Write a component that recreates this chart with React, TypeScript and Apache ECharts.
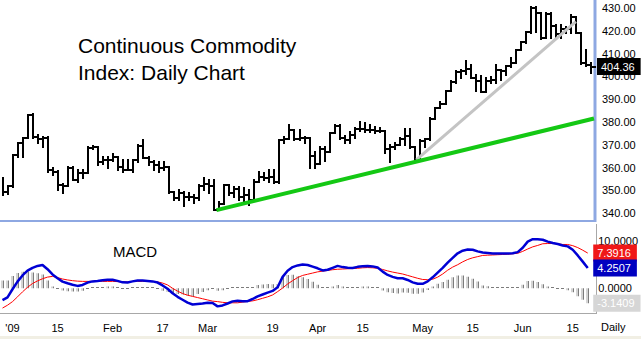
import React, { useEffect, useRef } from "react";
import * as echarts from "echarts";

const dates = [
  "12-30", "12-31",
  "01-02", "01-05", "01-06", "01-07", "01-08", "01-09", "01-12", "01-13", "01-14", "01-15", "01-16", "01-20", "01-21", "01-22", "01-23", "01-26", "01-27", "01-28", "01-29", "01-30",
  "02-02", "02-03", "02-04", "02-05", "02-06", "02-09", "02-10", "02-11", "02-12", "02-13", "02-17", "02-18", "02-19", "02-20", "02-23", "02-24", "02-25", "02-26", "02-27",
  "03-02", "03-03", "03-04", "03-05", "03-06", "03-09", "03-10", "03-11", "03-12", "03-13", "03-16", "03-17", "03-18", "03-19", "03-20", "03-23", "03-24", "03-25", "03-26", "03-27", "03-30", "03-31",
  "04-01", "04-02", "04-03", "04-06", "04-07", "04-08", "04-09", "04-13", "04-14", "04-15", "04-16", "04-17", "04-20", "04-21", "04-22", "04-23", "04-24", "04-27", "04-28", "04-29", "04-30",
  "05-01", "05-04", "05-05", "05-06", "05-07", "05-08", "05-11", "05-12", "05-13", "05-14", "05-15", "05-18", "05-19", "05-20", "05-21", "05-22", "05-26", "05-27", "05-28", "05-29",
  "06-01", "06-02", "06-03", "06-04", "06-05", "06-08", "06-09", "06-10", "06-11", "06-12", "06-15", "06-16", "06-17", "06-18",
];

const highs = [
  355.3, 352, 365.5, 371, 373, 383, 383.5, 374.5, 373.5, 373.5,
  360, 358.5, 353, 360.2, 360.2, 358.8, 359, 369, 369.5, 369,
  364.5, 364.5, 366, 364.7, 363.3, 363.3, 363.3, 370, 372, 364.6,
  363, 362.4, 362.4, 360.5, 349.5, 350.2, 349.3, 349, 348, 352.4,
  355.5, 354.6, 354.6, 345, 352.4, 352.4, 351.5, 351.5, 351, 350.2,
  354.6, 358, 357.6, 359, 359, 372, 373.5, 378.6, 376.5, 376.5,
  373.5, 373, 367, 369, 369, 375, 378.6, 378.6, 374, 375.5,
  377.5, 380, 379.5, 378.6, 378, 377.5, 376, 370, 370.8, 373,
  377, 377, 369, 372, 372.5, 381.6, 386.4, 388.6, 393.8, 398,
  402.5, 402.8, 406.6, 405, 400.6, 400, 399.5, 399.7, 405, 403,
  404.8, 408, 411.6, 415, 419.5, 430.3, 430.3, 428, 427.8, 428,
  422.5, 422.5, 421.5, 427, 426, 419, 411.6, 406,
];

const lows = [
  348, 348.5, 351.5, 364.6, 364.6, 373, 373, 371, 369, 358,
  357, 350.2, 348.8, 352, 354.6, 353.7, 355.5, 357.6, 368, 361.4,
  361.5, 360, 363, 359, 358, 359, 358, 362.5, 364.4, 361.3,
  359, 358, 359, 349, 346, 346, 343, 346, 344.6, 345.8,
  350.2, 349, 341.4, 341.4, 344, 348, 347, 345.8, 344.6, 343.6,
  345.8, 353.7, 354.6, 353.7, 353.5, 353.3, 371, 372.5, 372, 372,
  371, 360, 360, 361.5, 363, 367, 375, 372.5, 371, 371,
  373, 376, 375.5, 375.5, 375, 375.5, 366.5, 362.5, 368, 370,
  370, 368.5, 363.4, 363.5, 369, 372, 381.5, 386, 388, 393.5,
  397.3, 399.5, 401, 399.5, 393.8, 393.2, 393.2, 397, 397, 398.5,
  400.6, 404, 406, 411.5, 414.7, 419, 419.5, 416.6, 417, 417,
  417, 417, 419, 419, 419, 405.5, 404.8, 401.5,
];

const closes = [
  349.5, 352, 365.5, 371, 373, 383, 373.5, 372.5, 373, 359,
  358, 352.5, 352, 360, 354.6, 357.6, 357.6, 368.5, 369, 362.4,
  363.3, 363.5, 364.7, 360.2, 359, 359, 363.3, 369.5, 364.4, 362.4,
  361, 359.7, 360.2, 349.3, 346.5, 349, 347, 347, 346.5, 352,
  353, 352, 341.5, 344, 352.4, 349, 350.5, 347, 348, 346,
  353.7, 356, 355.5, 356, 353.7, 372, 372.5, 376.5, 372.5, 373,
  373, 365, 361.5, 368, 367, 375, 378.5, 373, 372, 374.5,
  377, 377, 376.5, 376.5, 376, 376, 368, 369, 370, 372.5,
  374, 369, 364, 371.5, 372.5, 381.5, 386, 388, 393.5, 397.8,
  402, 402.5, 403.5, 399.5, 398, 393.3, 398, 398.5, 403, 402.5,
  404.8, 406, 411.5, 415, 419.3, 430, 428, 417, 427.5, 422,
  418.5, 421, 421, 426, 419, 406, 405, 404.36,
];

const macd = [
  -2.5, -1.9, -0.2, 1.4, 2.7, 3.7, 4.3, 4.7, 4.9, 4.0,
  2.9, 2.1, 1.4, 1.05, 0.75, 0.5, 0.7, 1.2, 1.45, 1.55,
  1.7, 1.8, 1.8, 1.55, 1.25, 1.2, 1.45, 1.65, 1.65, 1.55,
  1.45, 1.2, 0.6, -0.1, -1.05, -1.8, -2.4, -3.0, -3.4, -3.3,
  -3.2, -3.05, -3.1, -3.8, -3.6, -3.2, -2.75, -2.6, -2.7, -2.7,
  -2.25, -1.7, -1.3, -0.9, -0.55, 0.2, 2.4, 3.7, 4.45, 4.8,
  5.0, 4.9, 4.55, 4.2, 3.75, 3.9, 4.3, 4.7, 4.45, 4.3,
  4.25, 4.5, 4.65, 4.7, 4.6, 4.35, 3.5, 2.8, 2.4, 2.1,
  2.1, 1.75, 1.25, 0.95, 0.95, 1.45, 2.3, 3.3, 4.3, 5.4,
  6.4, 7.35, 7.9, 8.15, 8.1, 7.75, 7.5, 7.4, 7.3, 7.3,
  7.3, 7.3, 7.35, 7.6, 8.5, 9.8, 10.3, 10.3, 10.2, 9.8,
  9.5, 9.3, 9.0, 8.8, 8.1, 6.9, 5.6, 4.2507,
];

const signal = [
  -4.15, -3.55, -2.8, -1.8, -0.75, 0.2, 1.0, 1.55, 2.0, 2.35,
  2.5, 2.25, 1.95, 1.75, 1.6, 1.5, 1.45, 1.45, 1.45, 1.5,
  1.45, 1.45, 1.45, 1.4, 1.35, 1.35, 1.45, 1.45, 1.45, 1.45,
  1.45, 1.35, 1.1, 0.7, 0.0, -0.6, -1.1, -1.45, -1.7, -1.95,
  -2.2, -2.45, -2.7, -2.8, -2.95, -3.05, -3.05, -3.05, -2.9, -2.75,
  -2.65, -2.4, -2.1, -1.8, -1.4, -0.7, 0.05, 0.9, 1.6, 2.25,
  2.7, 2.95, 3.2, 3.45, 3.6, 3.75, 3.9, 4.0, 4.05, 4.1,
  4.15, 4.2, 4.3, 4.35, 4.3, 4.2, 3.95, 3.65, 3.4, 3.2,
  3.0, 2.7, 2.4, 2.1, 1.85, 1.8, 1.9, 2.35, 3.0, 3.8,
  4.45, 4.95, 5.55, 6.05, 6.4, 6.65, 6.9, 6.95, 7.0, 7.05,
  7.1, 7.15, 7.25, 7.35, 7.75, 8.25, 8.7, 9.0, 9.35, 9.4,
  9.4, 9.35, 9.2, 9.2, 8.95, 8.55, 8.0, 7.3916,
];

const hist = [
  1.65, 1.65, 2.6, 3.2, 3.45, 3.5, 3.3, 3.15, 2.9, 1.65,
  0.4, -0.15, -0.45, -0.6, -0.7, -0.7, -0.5, -0.25, 0.0, 0.05,
  0.25, 0.35, 0.35, 0.15, -0.1, -0.15, 0.0, 0.2, 0.2, 0.1,
  0.0, -0.15, -0.5, -0.8, -1.05, -1.2, -1.3, -1.55, -1.7, -1.2,
  -0.8, -0.4, -0.3, -0.5, -0.4, -0.1, 0.1, 0.2, 0.1, 0.05,
  0.3, 0.7, 0.8, 0.9, 0.85, 0.9, 2.35, 2.8, 2.85, 2.55,
  2.3, 1.95, 1.35, 0.75, 0.15, 0.15, 0.4, 0.7, 0.4, 0.2,
  0.1, 0.3, 0.35, 0.35, 0.3, 0.15, -0.45, -0.85, -1.0, -1.1,
  -0.9, -0.95, -1.15, -1.15, -0.9, -0.35, 0.4, 0.95, 1.3, 1.8,
  2.3, 2.7, 2.7, 2.4, 2.0, 1.4, 0.6, 0.45, 0.3, 0.25,
  0.2, 0.15, 0.1, 0.25, 0.75, 1.55, 1.6, 1.3, 0.85, 0.4,
  0.1, -0.05, -0.2, -0.4, -0.85, -1.65, -2.4, -3.1409,
];

const priceTicks = [340, 350, 360, 370, 380, 390, 400, 410, 420, 430];
const macdTicks = [0, 10];
const tickDates = ["01-02", "01-15", "02-02", "02-17", "03-02", "03-19", "04-01", "04-15", "05-01", "05-15", "06-01", "06-15"];
const tickTexts = ["'09", "15", "Feb", "17", "Mar", "19", "Apr", "15", "May", "15", "Jun", "15"];

// trend lines: [bar position, price]
const greenTrend = [[42.5, 341.4], [117.5, 381.6]];
const grayTrend = [[82.2, 363.4], [113.9, 424.1]];

const lastClose = 404.36;
const lastSignal = 7.3916;
const lastMacd = 4.2507;
const lastHist = -3.1409;

const FONT = '"Liberation Sans", Arial, sans-serif';

function tagLabel(text: string, bg: string) {
  return {
    show: true,
    position: "end" as const,
    distance: 3,
    formatter: text,
    color: "#fff",
    opacity: 1,
    backgroundColor: bg,
    padding: [2, 6, 2, 4],
    fontSize: 11,
    lineHeight: 13,
    fontFamily: FONT,
  };
}

const hiddenLine = { color: "rgba(0,0,0,0)", width: 1, type: "solid" as const };

export default function App() {
  const ref = useRef<HTMLDivElement>(null);

  useEffect(() => {
    if (!ref.current) return;
    const chart = echarts.init(ref.current, null, { renderer: "svg" });

    const priceData = dates.map((d, i) => [i, highs[i], lows[i], closes[i]]);
    const histData = dates.map((d, i) => [i, hist[i]]);

    const option: any = {
      animation: false,
      backgroundColor: "#fff",
      grid: [
        { left: 0, top: 0, width: 594, height: 221 },
        { left: 0, top: 224, width: 594, height: 89 },
      ],
      xAxis: [
        { type: "category", gridIndex: 0, data: dates, boundaryGap: true, show: false },
        {
          type: "category",
          gridIndex: 1,
          data: dates,
          boundaryGap: true,
          axisLine: { show: false },
          axisTick: { show: false },
          splitLine: { show: false },
          axisLabel: {
            interval: (idx: number, value: string) => tickDates.indexOf(value) >= 0,
            formatter: (value: string) => tickTexts[tickDates.indexOf(value)] ?? "",
            color: "#000",
            fontSize: 11,
            fontFamily: FONT,
            margin: 9,
          },
        },
        { type: "value", gridIndex: 0, min: -0.5, max: 117.5, show: false },
      ],
      yAxis: [
        {
          type: "value",
          gridIndex: 0,
          position: "right",
          min: 336.62,
          max: 433.55,
          axisLine: { show: false },
          axisTick: { show: false },
          splitLine: { show: false },
          axisLabel: {
            customValues: priceTicks,
            formatter: (v: number) => v.toFixed(2),
            color: "#000",
            fontSize: 11,
            fontFamily: FONT,
            margin: 8,
          },
        },
        {
          type: "value",
          gridIndex: 1,
          position: "right",
          min: -5.19,
          max: 13.5,
          axisLine: { show: false },
          axisTick: { show: false },
          splitLine: { show: false },
          axisLabel: {
            customValues: macdTicks,
            formatter: (v: number) => v.toFixed(4),
            color: "#000",
            fontSize: 11,
            fontFamily: FONT,
            margin: 8,
          },
        },
      ],
      series: [
        {
          type: "custom",
          name: "price",
          xAxisIndex: 0,
          yAxisIndex: 0,
          data: priceData,
          z: 3,
          renderItem: (params: any, api: any) => {
            const i = api.value(0);
            const hi = api.coord([i, api.value(1)]);
            const lo = api.coord([i, api.value(2)]);
            const cl = api.coord([i, api.value(3)]);
            const w = api.size([1, 0])[0];
            const cx = Math.round(hi[0]);
            const yc = Math.round(cl[1]);
            return {
              type: "group",
              children: [
                {
                  type: "line",
                  shape: { x1: cx, y1: Math.round(hi[1]) - 1, x2: cx, y2: Math.round(lo[1]) + 1 },
                  style: { stroke: "#000", lineWidth: 2 },
                },
                {
                  type: "line",
                  shape: { x1: cx - 1, y1: yc, x2: cx + w, y2: yc },
                  style: { stroke: "#000", lineWidth: 2 },
                },
              ],
            };
          },
        },
        {
          type: "line",
          name: "gray trend",
          xAxisIndex: 2,
          yAxisIndex: 0,
          data: grayTrend,
          symbol: "none",
          z: 4,
          lineStyle: { color: "#c4c4c4", width: 3 },
        },
        {
          type: "line",
          name: "green trend",
          xAxisIndex: 2,
          yAxisIndex: 0,
          data: greenTrend,
          symbol: "none",
          z: 4,
          lineStyle: { color: "#14c814", width: 4 },
          markLine: {
            silent: true,
            symbol: ["none", "none"],
            lineStyle: hiddenLine,
            emphasis: { disabled: true },
            data: [{ yAxis: lastClose, label: tagLabel(lastClose.toFixed(2), "#000") }],
          },
        },
        {
          type: "custom",
          name: "hist",
          xAxisIndex: 1,
          yAxisIndex: 1,
          data: histData,
          renderItem: (params: any, api: any) => {
            const i = api.value(0);
            const v = api.value(1);
            const p0 = api.coord([i, 0]);
            const p1 = api.coord([i, v]);
            const cx = Math.round(p0[0]);
            const y0 = Math.round(p0[1]);
            const h = Math.abs(p1[1] - p0[1]);
            if (h < 1.5) {
              return {
                type: "rect",
                shape: { x: cx - 2, y: v < 0 ? y0 : y0 - 1, width: 3, height: 1 },
                style: { fill: "#7c7c7c" },
              };
            }
            const top = Math.min(p0[1], p1[1]);
            return {
              type: "group",
              children: [
                { type: "rect", shape: { x: cx - 2, y: top, width: 2, height: h }, style: { fill: "#d4d4d4" } },
                { type: "rect", shape: { x: cx, y: top, width: 1, height: h }, style: { fill: "#7c7c7c" } },
              ],
            };
          },
        },
        {
          type: "line",
          name: "signal",
          xAxisIndex: 1,
          yAxisIndex: 1,
          data: signal,
          symbol: "none",
          z: 4,
          lineStyle: { color: "#ff0000", width: 1 },
          markLine: {
            silent: true,
            symbol: ["none", "none"],
            lineStyle: hiddenLine,
            emphasis: { disabled: true },
            data: [{ yAxis: lastSignal, label: tagLabel(lastSignal.toFixed(4), "#f01818") }],
          },
        },
        {
          type: "line",
          name: "macd",
          xAxisIndex: 1,
          yAxisIndex: 1,
          data: macd,
          symbol: "none",
          z: 5,
          lineStyle: { color: "#0000d4", width: 2.5 },
          markLine: {
            silent: true,
            symbol: ["none", "none"],
            lineStyle: hiddenLine,
            emphasis: { disabled: true },
            data: [
              { yAxis: lastMacd, label: tagLabel(lastMacd.toFixed(4), "#0000c0") },
              { yAxis: lastHist, label: tagLabel(lastHist.toFixed(4), "#d6d6d6") },
            ],
          },
        },
      ],
      graphic: [
        { type: "line", shape: { x1: 595, y1: 0, x2: 595, y2: 222 }, style: { stroke: "#8ea8e2", lineWidth: 3 } },
        { type: "line", shape: { x1: 0, y1: 221, x2: 596, y2: 221 }, style: { stroke: "#8ea8e2", lineWidth: 2 } },
        { type: "line", shape: { x1: 596.5, y1: 224, x2: 596.5, y2: 313.5 }, style: { stroke: "#a8a8a8", lineWidth: 1 } },
        { type: "line", shape: { x1: 0, y1: 313.5, x2: 597, y2: 313.5 }, style: { stroke: "#a8a8a8", lineWidth: 1 } },
        { type: "rect", shape: { x: 0, y: 336, width: 641, height: 3 }, style: { fill: "#f1efe4" } },
        {
          type: "text",
          x: 78,
          y: 45,
          style: { text: "Continuous Commodity", fontSize: 21, fontFamily: FONT, fill: "#000", verticalAlign: "middle" },
        },
        {
          type: "text",
          x: 78,
          y: 72,
          style: { text: "Index: Daily Chart", fontSize: 21, fontFamily: FONT, fill: "#000", verticalAlign: "middle" },
        },
        {
          type: "text",
          x: 113,
          y: 251,
          style: { text: "MACD", fontSize: 15, fontFamily: FONT, fill: "#000", verticalAlign: "middle" },
        },
        {
          type: "text",
          x: 601,
          y: 327,
          style: { text: "Daily", fontSize: 11, fontFamily: FONT, fill: "#000", verticalAlign: "middle" },
        },
      ],
    };

    chart.setOption(option);
    return () => chart.dispose();
  }, []);

  return (
    <div
      ref={ref}
      style={{ position: "absolute", left: 0, top: 0, width: 641, height: 339, background: "#fff" }}
    />
  );
}
